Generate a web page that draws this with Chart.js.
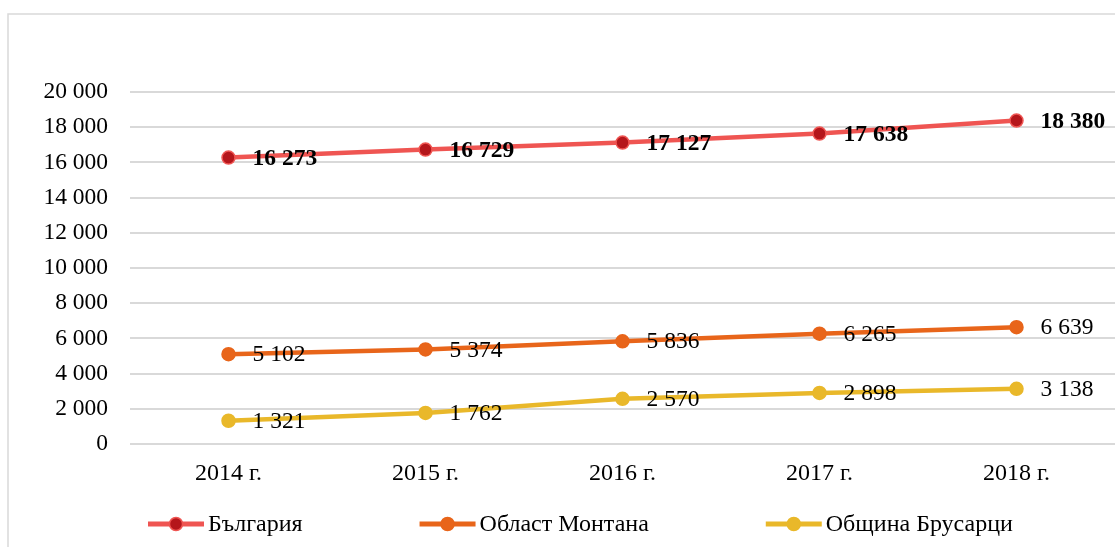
<!DOCTYPE html>
<html>
<head>
<meta charset="utf-8">
<script src="https://cdn.jsdelivr.net/npm/chart.js@4.4.1/dist/chart.umd.min.js"></script>
<style>
  html, body { margin: 0; padding: 0; background: #fff; }
  canvas { display: block; }
</style>
</head>
<body>
<canvas id="lineChart" width="1115" height="547"></canvas>
<script>
// Data
const years = ['2014 г.', '2015 г.', '2016 г.', '2017 г.', '2018 г.'];
const bulgaria = [16273, 16729, 17127, 17638, 18380];
const montana = [5102, 5374, 5836, 6265, 6639];
const brusartsi = [1321, 1762, 2570, 2898, 3138];
const seriesNames = ['България', 'Област Монтана', 'Община Брусарци'];

const serif = "'Liberation Serif', 'Times New Roman', serif";

// 16273 -> "16 273"
function fmt(n) {
  return String(n).replace(/\B(?=(\d{3})+(?!\d))/g, ' ');
}

// value labels to the right of each point (bold for the first series)
const valueLabels = {
  id: 'valueLabels',
  afterDatasetsDraw(chart) {
    const ctx = chart.ctx;
    ctx.save();
    ctx.textBaseline = 'middle';
    ctx.textAlign = 'left';
    ctx.fillStyle = '#000';
    chart.data.datasets.forEach((ds, i) => {
      ctx.font = (i === 0 ? 'bold ' : '') + '23.5px ' + serif;
      chart.getDatasetMeta(i).data.forEach((pt, j) => {
        ctx.fillText(fmt(ds.data[j]), pt.x + 24, pt.y + 1);
      });
    });
    ctx.restore();
  }
};

// chart frame + line-with-marker legend at the bottom
const frameAndLegend = {
  id: 'frameAndLegend',
  beforeDraw(chart) {
    const ctx = chart.ctx;
    ctx.save();
    ctx.strokeStyle = '#d9d9d9';
    ctx.lineWidth = 1.5;
    ctx.strokeRect(8, 14, 1200, 600);
    ctx.restore();
  },
  afterDraw(chart) {
    const ctx = chart.ctx;
    const y = 524;
    let x = 148;
    ctx.save();
    ctx.font = '24px ' + serif;
    ctx.textBaseline = 'middle';
    chart.data.datasets.forEach(ds => {
      ctx.strokeStyle = ds.borderColor;
      ctx.lineWidth = 5;
      ctx.beginPath();
      ctx.moveTo(x, y);
      ctx.lineTo(x + 56, y);
      ctx.stroke();
      ctx.beginPath();
      ctx.arc(x + 28, y, 6.5, 0, Math.PI * 2);
      ctx.fillStyle = ds.pointBackgroundColor;
      ctx.fill();
      ctx.lineWidth = 1.5;
      ctx.strokeStyle = ds.pointBorderColor;
      ctx.stroke();
      ctx.fillStyle = '#000';
      ctx.fillText(ds.label, x + 60, y + 1);
      x += 60 + ctx.measureText(ds.label).width + 117;
    });
    ctx.restore();
  }
};

new Chart(document.getElementById('lineChart'), {
  type: 'line',
  data: {
    labels: years,
    datasets: [
      {
        label: seriesNames[0],
        data: bulgaria,
        borderColor: '#ef5552',
        pointBackgroundColor: '#b5161b',
        pointBorderColor: '#ef5552'
      },
      {
        label: seriesNames[1],
        data: montana,
        borderColor: '#e8651a',
        pointBackgroundColor: '#e8651a',
        pointBorderColor: '#e8651a'
      },
      {
        label: seriesNames[2],
        data: brusartsi,
        borderColor: '#e9b82a',
        pointBackgroundColor: '#e9b82a',
        pointBorderColor: '#e9b82a'
      }
    ]
  },
  options: {
    responsive: false,
    animation: false,
    devicePixelRatio: 1,
    layout: { autoPadding: false, padding: { top: 92, bottom: 53, right: 0, left: 0 } },
    elements: {
      line: { borderWidth: 4.5, tension: 0 },
      point: { radius: 6.5, borderWidth: 1.5 }
    },
    plugins: {
      legend: { display: false },
      tooltip: { enabled: false }
    },
    scales: {
      x: {
        offset: true,
        grid: { display: false, drawTicks: false },
        border: { display: false },
        ticks: { color: '#000', padding: 15, font: { family: serif, size: 24 } },
        afterFit(scale) {
          scale.height = 50;
          scale.paddingLeft = 0;
          scale.paddingRight = 0;
        }
      },
      y: {
        min: 0,
        max: 20000,
        grid: { color: '#d9d9d9', lineWidth: 2, drawTicks: false },
        border: { display: false },
        ticks: {
          stepSize: 2000,
          color: '#000',
          padding: 22,
          font: { family: serif, size: 23.5 },
          callback: v => fmt(v)
        },
        afterFit(scale) { scale.width = 130; }
      }
    }
  },
  plugins: [valueLabels, frameAndLegend]
});
</script>
</body>
</html>
